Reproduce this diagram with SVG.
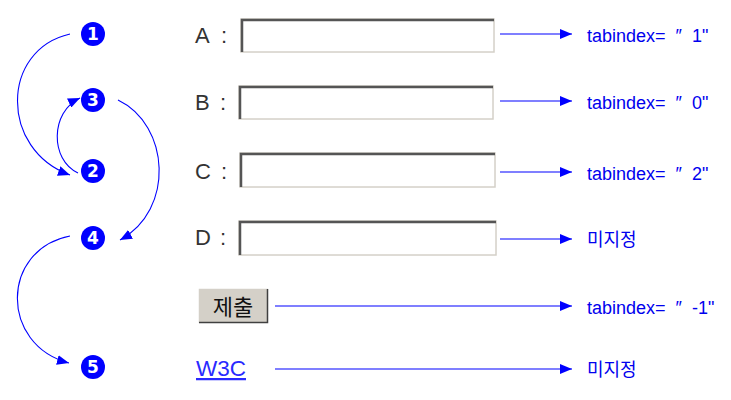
<svg xmlns="http://www.w3.org/2000/svg" width="731" height="400" viewBox="0 0 731 400">
<style>
.badge circle{fill:#0000ff}
.badge text{fill:#fff;font-family:"DejaVu Sans",sans-serif;font-weight:bold;font-size:17px;text-anchor:middle}
.lbl{font-family:"Liberation Sans",sans-serif;font-size:22px;fill:#333}
.fld{fill:#fff;stroke:#d4d0c8;stroke-width:1.5}
.fdark{fill:none;stroke:#555;stroke-width:2.5}
.note{font-family:"Liberation Sans","Noto Sans CJK KR",sans-serif;font-size:18px;fill:#0000ee;word-spacing:5px}
.kr{font-family:"Noto Sans CJK KR",sans-serif;font-size:18px;fill:#0000ee}
.conn path,.conn line{fill:none;stroke:#0000ff;stroke-width:1.1}
</style>
<defs>
<marker id="ah" viewBox="0 0 12 10" refX="12" refY="5" markerWidth="12" markerHeight="10" markerUnits="userSpaceOnUse" orient="auto">
<path d="M0,0 L12,5 L0,10 Z" fill="#0000ff"/>
</marker>
</defs>
<rect width="731" height="400" fill="#fff"/>

<g id="step1" class="badge"><circle cx="93" cy="34" r="12"/><text x="93" y="40">1</text></g>
<g id="step3" class="badge"><circle cx="93" cy="100" r="12"/><text x="93" y="106">3</text></g>
<g id="step2" class="badge"><circle cx="93" cy="171" r="12"/><text x="93" y="177">2</text></g>
<g id="step4" class="badge"><circle cx="93" cy="238" r="12"/><text x="93" y="244">4</text></g>
<g id="step5" class="badge"><circle cx="93" cy="367" r="12"/><text x="93" y="373">5</text></g>

<g id="fieldA">
<text class="lbl" x="195" y="43">A<tspan x="221">:</tspan></text>
<rect class="fld" x="241" y="19" width="253" height="33"/>
<polyline class="fdark" points="242,52 242,20 494,20"/>
</g>
<g id="fieldB">
<text class="lbl" x="195" y="110">B<tspan x="220">:</tspan></text>
<rect class="fld" x="239" y="86" width="254" height="33"/>
<polyline class="fdark" points="240,119 240,87 493,87"/>
</g>
<g id="fieldC">
<text class="lbl" x="195" y="179">C<tspan x="221">:</tspan></text>
<rect class="fld" x="240" y="153" width="255" height="34"/>
<polyline class="fdark" points="241,187 241,154 495,154"/>
</g>
<g id="fieldD">
<text class="lbl" x="195" y="245">D<tspan x="220">:</tspan></text>
<rect class="fld" x="239" y="221" width="257" height="34"/>
<polyline class="fdark" points="240,255 240,222 496,222"/>
</g>
<g id="submit">
<rect x="198" y="288" width="70" height="35" fill="#d4d0c8"/>
<polyline points="198,323 198,288 268,288" fill="none" stroke="#fff" stroke-width="1.5"/>
<polyline points="199,322.5 267.5,322.5 267.5,289" fill="none" stroke="#404040" stroke-width="1.5"/>
<text x="233" y="315" text-anchor="middle" font-family="'Noto Sans CJK KR',sans-serif" font-size="22" fill="#111">제출</text>
</g>
<g id="link">
<text x="196" y="376" font-family="'Liberation Sans',sans-serif" font-size="22.5" fill="#2a2aff" text-decoration="underline">W3C</text>
</g>

<g id="noteA"><text class="note" x="587" y="42">tabindex= ″ 1"</text></g>
<g id="noteB"><text class="note" x="587" y="109">tabindex= ″ 0"</text></g>
<g id="noteC"><text class="note" x="587" y="180">tabindex= ″ 2"</text></g>
<g id="noteD"><text class="kr" x="587" y="246">미지정</text></g>
<g id="noteSubmit"><text class="note" x="587" y="314">tabindex= ″ -1"</text></g>
<g id="noteLink"><text class="kr" x="587" y="376">미지정</text></g>

<g id="connectors" class="conn">
<path d="M70,34 C0,50 0,150 70,175" marker-end="url(#ah)"/>
<path d="M78,173 C50,160 50,112 80,98" marker-end="url(#ah)"/>
<path d="M118,100 C170,125 175,210 120,240" marker-end="url(#ah)"/>
<path d="M70,236 C0,250 0,345 69,363" marker-end="url(#ah)"/>
<line x1="500" y1="34" x2="572" y2="34" marker-end="url(#ah)"/>
<line x1="500" y1="101" x2="572" y2="101" marker-end="url(#ah)"/>
<line x1="500" y1="172" x2="572" y2="172" marker-end="url(#ah)"/>
<line x1="500" y1="239" x2="572" y2="239" marker-end="url(#ah)"/>
<line x1="275" y1="306" x2="572" y2="306" marker-end="url(#ah)"/>
<line x1="275" y1="369" x2="572" y2="369" marker-end="url(#ah)"/>
</g>
</svg>
